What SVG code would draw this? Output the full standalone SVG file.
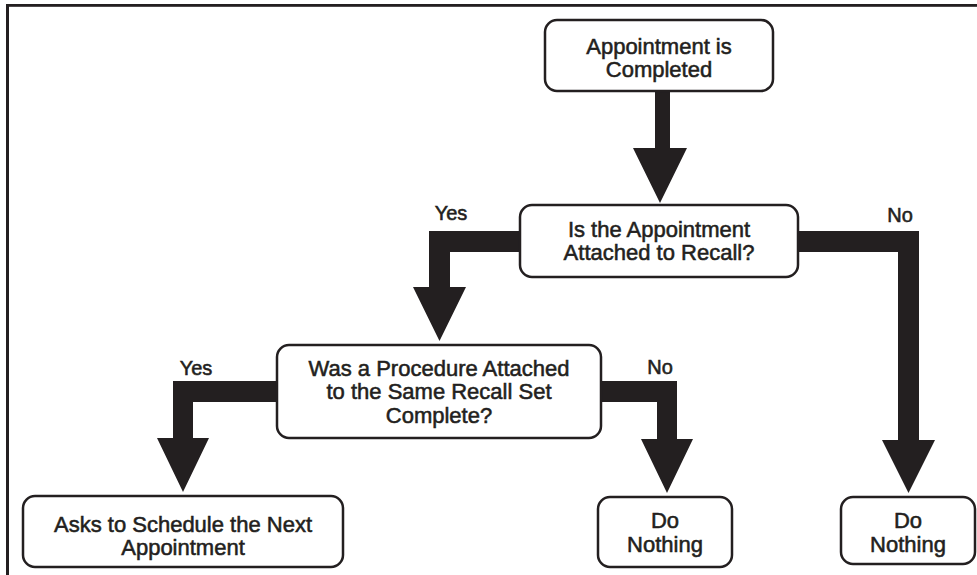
<svg xmlns="http://www.w3.org/2000/svg" width="977" height="575" viewBox="0 0 977 575">
  <style>
    .frame { fill: #231f20; }
    .box { fill: #ffffff; stroke: #231f20; stroke-width: 2.5; }
    .flow { fill: #231f20; }
    .txt { font-family: "Liberation Sans", Arial, sans-serif; font-size: 22px; fill: #231f20; text-anchor: middle; stroke: #231f20; stroke-width: 0.55; }
    .lbl { font-family: "Liberation Sans", Arial, sans-serif; font-size: 20px; fill: #231f20; text-anchor: middle; stroke: #231f20; stroke-width: 0.55; }
  </style>
  <rect width="977" height="575" fill="#ffffff"/>
  <!-- page frame: top and left rules -->
  <rect class="frame" x="6" y="4" width="971" height="2.8"/>
  <rect class="frame" x="6" y="4" width="3" height="571"/>

  <!-- block arrows -->
  <g id="connectors">
    <path class="flow" d="M655,91 L670,91 L670,148 L687,148 L660,203 L633,148 L655,148 Z"/>
    <path class="flow" d="M520,231 L429,231 L429,287 L413,287 L439.5,341 L466,287 L450,287 L450,252 L520,252 Z"/>
    <path class="flow" d="M798,231 L919,231 L919,440 L935,440 L908.5,493 L882,440 L898,440 L898,252 L798,252 Z"/>
    <path class="flow" d="M277,381 L173,381 L173,438 L157,438 L183,492 L209,438 L193,438 L193,402 L277,402 Z"/>
    <path class="flow" d="M601,381 L677,381 L677,439 L693,439 L667,493 L641,439 L657,439 L657,402 L601,402 Z"/>
    <text class="lbl" x="451" y="220">Yes</text>
    <text class="lbl" x="900" y="222">No</text>
    <text class="lbl" x="196" y="375">Yes</text>
    <text class="lbl" x="660" y="374">No</text>
  </g>

  <g id="appointment-completed">
    <rect class="box" x="545" y="20" width="228" height="71" rx="12"/>
    <text class="txt" x="659" y="54">Appointment is</text>
    <text class="txt" x="659" y="77">Completed</text>
  </g>

  <g id="attached-to-recall">
    <rect class="box" x="520" y="205" width="278" height="72" rx="12"/>
    <text class="txt" x="659" y="237">Is the Appointment</text>
    <text class="txt" x="659" y="260">Attached to Recall?</text>
  </g>

  <g id="procedure-complete">
    <rect class="box" x="277" y="345" width="324" height="93" rx="12"/>
    <text class="txt" x="439" y="376">Was a Procedure Attached</text>
    <text class="txt" x="439" y="399">to the Same Recall Set</text>
    <text class="txt" x="439" y="423">Complete?</text>
  </g>

  <g id="schedule-next">
    <rect class="box" x="23" y="496" width="320" height="71" rx="12"/>
    <text class="txt" x="183" y="532">Asks to Schedule the Next</text>
    <text class="txt" x="183" y="555">Appointment</text>
  </g>

  <g id="do-nothing-1">
    <rect class="box" x="598" y="497" width="134" height="70" rx="12"/>
    <text class="txt" x="665" y="528">Do</text>
    <text class="txt" x="665" y="552">Nothing</text>
  </g>

  <g id="do-nothing-2">
    <rect class="box" x="841" y="497" width="134" height="67" rx="12"/>
    <text class="txt" x="908" y="528">Do</text>
    <text class="txt" x="908" y="552">Nothing</text>
  </g>
</svg>
